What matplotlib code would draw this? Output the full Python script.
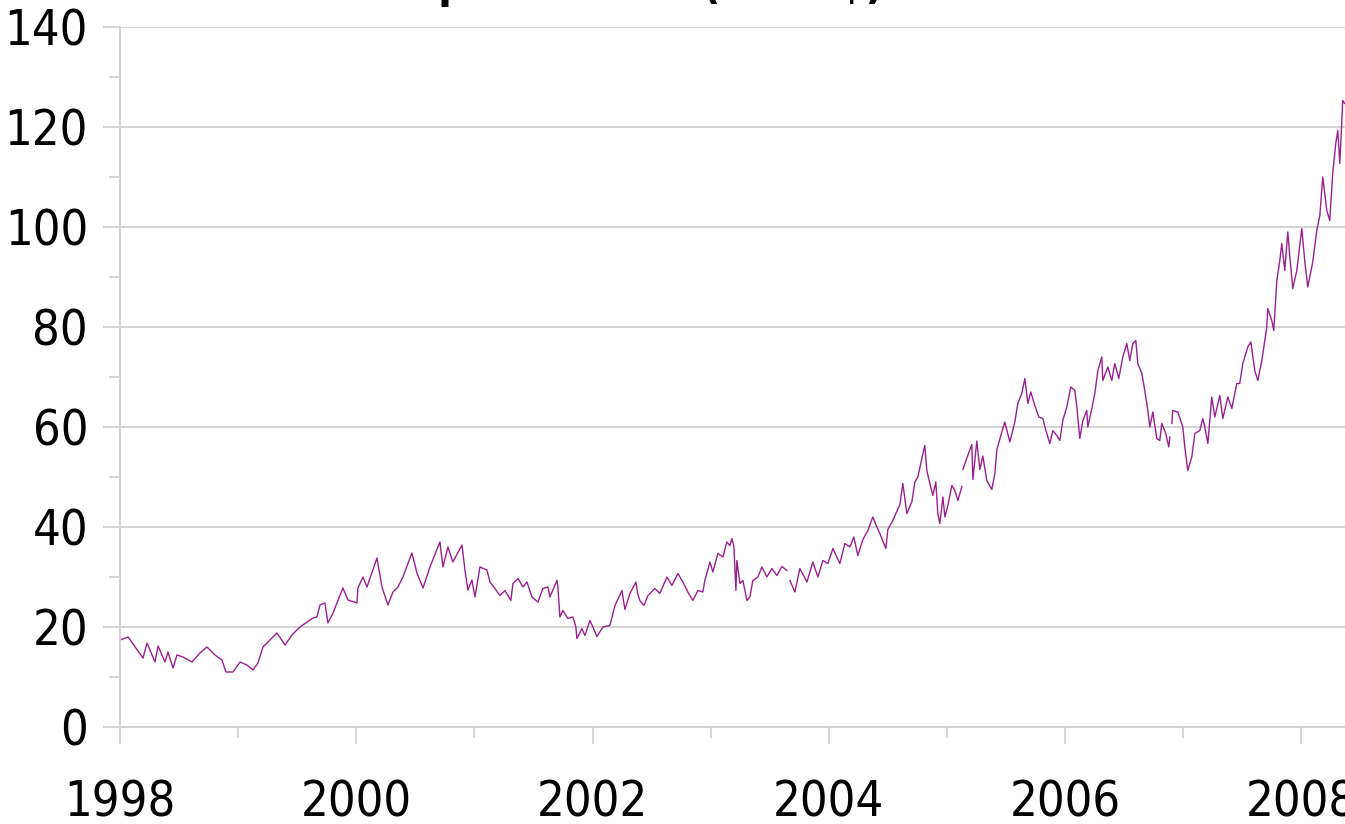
import os
import numpy as np
import matplotlib
matplotlib.use("Agg")
import matplotlib.pyplot as plt
from matplotlib.ticker import FixedLocator, NullFormatter
from matplotlib import font_manager as fm

title_pre = "Crude oil "
title = "Crude oil price trend (in US$)"

years = [
    1998.000, 1998.068, 1998.195, 1998.229, 1998.296, 1998.322, 1998.381, 1998.406,
    1998.449, 1998.482, 1998.533, 1998.609, 1998.677, 1998.736, 1998.804, 1998.863,
    1998.897, 1998.956, 1999.016, 1999.075, 1999.126, 1999.168, 1999.210, 1999.329,
    1999.397, 1999.456, 1999.523, 1999.634, 1999.667, 1999.693, 1999.735, 1999.760,
    1999.803, 1999.887, 1999.930, 2000.006, 2000.014, 2000.057, 2000.091, 2000.175,
    2000.218, 2000.268, 2000.311, 2000.353, 2000.395, 2000.471, 2000.514, 2000.565,
    2000.624, 2000.708, 2000.734, 2000.776, 2000.818, 2000.895, 2000.920, 2000.945,
    2000.979, 2001.005, 2001.047, 2001.106, 2001.132, 2001.174, 2001.216, 2001.259,
    2001.309, 2001.326, 2001.369, 2001.411, 2001.445, 2001.487, 2001.538, 2001.580,
    2001.623, 2001.639, 2001.699, 2001.707, 2001.724, 2001.749, 2001.792, 2001.834,
    2001.859, 2001.868, 2001.910, 2001.936, 2001.978, 2002.003, 2002.037, 2002.088,
    2002.147, 2002.190, 2002.249, 2002.274, 2002.317, 2002.367, 2002.384, 2002.401,
    2002.435, 2002.469, 2002.528, 2002.570, 2002.630, 2002.672, 2002.723, 2002.765,
    2002.807, 2002.850, 2002.892, 2002.934, 2002.951, 2002.994, 2003.019, 2003.061,
    2003.104, 2003.137, 2003.163, 2003.180, 2003.197, 2003.214, 2003.222, 2003.248,
    2003.273, 2003.307, 2003.332, 2003.357, 2003.400, 2003.434, 2003.476, 2003.518,
    2003.561, 2003.603, 2003.645, 2003.660, 2003.671, 2003.713, 2003.755, 2003.815,
    2003.865, 2003.908, 2003.950, 2003.992, 2004.035, 2004.094, 2004.136, 2004.179,
    2004.212, 2004.246, 2004.289, 2004.331, 2004.373, 2004.407, 2004.432, 2004.483,
    2004.500, 2004.542, 2004.602, 2004.627, 2004.661, 2004.703, 2004.729, 2004.754,
    2004.788, 2004.813, 2004.830, 2004.856, 2004.881, 2004.906, 2004.923, 2004.940,
    2004.966, 2004.983, 2005.008, 2005.042, 2005.067, 2005.093, 2005.127, 2005.131,
    2005.135, 2005.177, 2005.211, 2005.220, 2005.253, 2005.279, 2005.304, 2005.338,
    2005.380, 2005.406, 2005.423, 2005.465, 2005.490, 2005.533, 2005.575, 2005.600,
    2005.634, 2005.660, 2005.685, 2005.710, 2005.744, 2005.778, 2005.812, 2005.838,
    2005.871, 2005.897, 2005.931, 2005.956, 2005.981, 2006.015, 2006.049, 2006.083,
    2006.100, 2006.125, 2006.151, 2006.184, 2006.193, 2006.227, 2006.252, 2006.278,
    2006.311, 2006.320, 2006.362, 2006.396, 2006.421, 2006.455, 2006.489, 2006.523,
    2006.548, 2006.574, 2006.599, 2006.616, 2006.650, 2006.675, 2006.701, 2006.718,
    2006.743, 2006.777, 2006.802, 2006.819, 2006.853, 2006.878, 2006.887, 2006.895,
    2006.904, 2006.912, 2006.955, 2006.997, 2007.014, 2007.039, 2007.073, 2007.099,
    2007.141, 2007.166, 2007.183, 2007.209, 2007.242, 2007.268, 2007.310, 2007.336,
    2007.378, 2007.412, 2007.454, 2007.479, 2007.505, 2007.547, 2007.573, 2007.606,
    2007.632, 2007.666, 2007.708, 2007.716, 2007.750, 2007.767, 2007.793, 2007.818,
    2007.835, 2007.860, 2007.886, 2007.903, 2007.928, 2007.962, 2008.004, 2008.030,
    2008.055, 2008.097, 2008.131, 2008.157, 2008.182, 2008.216, 2008.241, 2008.267,
    2008.292, 2008.309, 2008.326, 2008.351, 2008.368,
]

price = [
    17.4, 18.0, 13.8, 16.8, 13.0, 16.2, 13.0, 15.0,
    11.8, 14.4, 14.0, 13.0, 14.8, 16.0, 14.4, 13.4,
    11.0, 11.0, 13.0, 12.4, 11.4, 12.8, 16.0, 18.8,
    16.4, 18.4, 20.0, 21.8, 22.0, 24.4, 24.8, 20.8,
    22.8, 27.8, 25.4, 24.8, 27.8, 30.0, 28.0, 33.8,
    28.0, 24.4, 27.0, 28.0, 30.0, 34.8, 30.8, 27.8,
    32.0, 37.0, 32.0, 36.0, 33.0, 36.4, 31.4, 27.4,
    29.4, 26.0, 32.0, 31.4, 29.0, 27.7, 26.3, 27.3,
    25.3, 28.7, 29.7, 28.0, 29.0, 26.0, 25.0, 27.7,
    28.0, 26.0, 29.3, 28.0, 22.0, 23.3, 21.7, 22.0,
    20.0, 17.7, 19.7, 18.3, 21.3, 20.0, 18.1, 20.0,
    20.3, 24.3, 27.3, 23.5, 26.7, 29.0, 26.5, 25.3,
    24.3, 26.3, 27.7, 26.7, 30.0, 28.3, 30.7, 29.0,
    27.0, 25.3, 27.3, 27.0, 29.3, 33.0, 31.0, 34.7,
    34.0, 37.0, 36.3, 37.7, 36.0, 27.3, 33.3, 28.7,
    29.3, 25.3, 26.0, 29.3, 30.0, 32.0, 30.0, 31.7,
    30.3, 32.1, 31.3, np.nan, 29.3, 27.0, 31.7, 29.0,
    33.0, 30.0, 33.3, 32.7, 35.7, 32.7, 36.7, 36.0,
    38.0, 34.3, 37.5, 39.3, 42.0, 40.0, 38.7, 35.7,
    39.5, 41.3, 44.5, 48.7, 42.7, 45.0, 49.0, 50.0,
    53.7, 56.3, 51.3, 48.7, 46.3, 49.0, 42.7, 40.7,
    46.0, 42.0, 44.3, 48.3, 47.3, 45.3, 48.1, np.nan,
    51.5, 54.3, 56.5, 49.5, 57.2, 51.5, 54.2, 49.3,
    47.5, 50.7, 55.5, 59.0, 61.0, 57.0, 61.0, 64.7,
    66.7, 69.7, 64.7, 67.0, 64.3, 62.0, 61.7, 59.3,
    56.7, 59.3, 58.3, 57.3, 61.3, 64.0, 68.0, 67.3,
    64.0, 57.7, 61.3, 63.3, 60.0, 63.7, 66.7, 71.3,
    74.0, 69.3, 72.0, 69.3, 72.7, 69.7, 74.0, 76.7,
    73.3, 76.7, 77.3, 72.7, 70.7, 67.3, 63.3, 60.0,
    63.0, 57.7, 57.3, 60.7, 58.7, 56.0, 58.0, np.nan,
    60.7, 63.3, 63.0, 60.0, 56.0, 51.3, 54.0, 58.7,
    59.3, 61.7, 60.0, 56.7, 66.0, 62.0, 66.3, 61.7,
    66.0, 63.7, 68.7, 68.7, 72.7, 76.0, 77.0, 71.3,
    69.3, 73.3, 80.0, 83.7, 81.3, 79.3, 89.3, 93.3,
    96.7, 91.3, 99.0, 94.0, 87.7, 91.3, 99.7, 93.0,
    88.0, 93.0, 99.3, 102.3, 110.0, 103.3, 101.3, 111.0,
    116.7, 119.3, 112.7, 125.3, 124.7,
]

major_years = [1998, 2000, 2002, 2004, 2006, 2008]
minor_years = [1999, 2001, 2003, 2005, 2007]
y_major = [0, 20, 40, 60, 80, 100, 120, 140]
y_minor = [10, 30, 50, 70, 90, 110, 130]

# ---- font choice: prefer a narrow / condensed face, like the reference ----
files = {os.path.basename(f.fname).lower(): f.fname for f in fm.fontManager.ttflist}
reg_file = None
bold_file = None
for r, b in [("liberationsansnarrow-regular.ttf", "liberationsansnarrow-bold.ttf"),
             ("dejavusanscondensed.ttf", "dejavusanscondensed-bold.ttf"),
             ("opensans_condensed-regular.ttf", "opensans_condensed-bold.ttf"),
             ("robotocondensed-regular.ttf", "robotocondensed-bold.ttf")]:
    if r in files:
        reg_file = files[r]
        bold_file = files.get(b, files[r])
        break

if reg_file is None:
    for k, v in files.items():
        if ('condensed' in k or 'narrow' in k) and 'bold' not in k and 'italic' not in k and 'oblique' not in k:
            reg_file = v
            bold_file = v
            break

if reg_file is not None:
    FS = 35
    TFS = 32
    fp_reg = fm.FontProperties(fname=reg_file, size=FS)
    fp_bold = fm.FontProperties(fname=bold_file, size=TFS)
else:
    FS = 31
    TFS = 28
    fp_reg = fm.FontProperties(family='DejaVu Sans', size=FS)
    fp_bold = fm.FontProperties(family='DejaVu Sans', weight='bold', size=TFS)

GRID = '#d0d0d0'
LINE = '#9a2090'

fig = plt.figure(figsize=(13.45, 8.24), dpi=100)
ax = fig.add_axes([120 / 1345, 1 - 727 / 824, 1 - 120 / 1345, 700 / 824])

ax.plot(years, price, color=LINE, lw=1.0, solid_joinstyle='round')

ax.set_xlim(1998, 2008.37)
ax.set_ylim(0, 140)

ax.yaxis.set_major_locator(FixedLocator(y_major))
ax.yaxis.set_minor_locator(FixedLocator(y_minor))
ax.xaxis.set_major_locator(FixedLocator(major_years))
ax.xaxis.set_minor_locator(FixedLocator(minor_years))
ax.set_xticklabels([str(y) for y in major_years])
ax.set_yticklabels([str(v) for v in y_major])
ax.xaxis.set_minor_formatter(NullFormatter())

ax.grid(axis='y', which='major', color=GRID, lw=1.3)
ax.set_axisbelow(True)

for s in ['top', 'right']:
    ax.spines[s].set_visible(False)
for s in ['left', 'bottom']:
    ax.spines[s].set_color(GRID)
    ax.spines[s].set_linewidth(1.3)

ax.tick_params(axis='y', which='major', length=12, width=1.2, color=GRID, pad=11)
ax.tick_params(axis='y', which='minor', length=8, width=1.2, color=GRID)
ax.tick_params(axis='x', which='major', length=12, width=1.2, color=GRID, pad=25)
ax.tick_params(axis='x', which='minor', length=8, width=1.2, color=GRID)

for lbl in ax.get_xticklabels() + ax.get_yticklabels():
    lbl.set_fontproperties(fp_reg)

# title – mostly above the visible canvas, only descenders show
renderer = fig.canvas.get_renderer()
probe1 = fig.text(0, 0, title_pre + "p", fontproperties=fp_bold)
probe2 = fig.text(0, 0, "p", fontproperties=fp_bold)
w_pre = probe1.get_window_extent(renderer).width - probe2.get_window_extent(renderer).width
probe1.remove()
probe2.remove()
x_left_px = 438 - w_pre
fig.text(x_left_px / 1345, 1.002, title, ha='left', va='baseline',
         fontproperties=fp_bold, color='black')

fig.savefig('out.png', dpi=100)
